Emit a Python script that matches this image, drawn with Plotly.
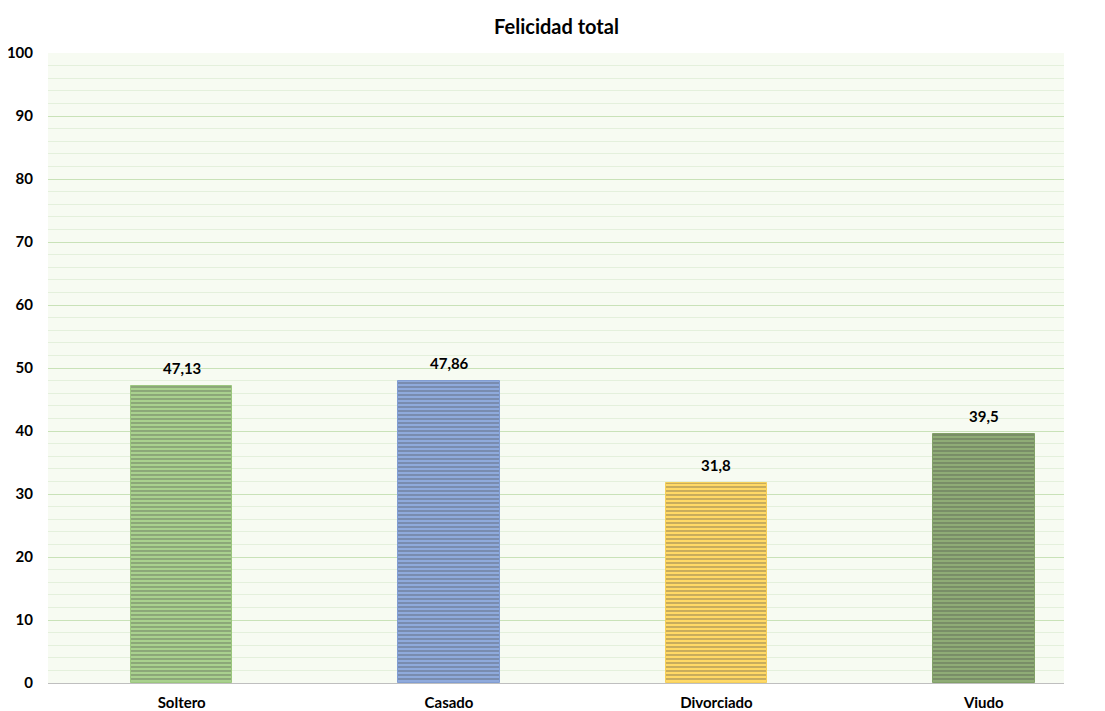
import plotly.graph_objects as go

categories = ["Soltero", "Casado", "Divorciado", "Viudo"]
values = [47.13, 47.86, 31.8, 39.5]
colors = ["#a9d18e", "#8faadc", "#ffd966", "#8fac76"]
line_colors = ["#9cc77f", "#819dd2", "#f5cf5a", "#82a168"]

labels = [str(v).replace(".", ",") for v in values]

fig = go.Figure()
fig.add_trace(go.Bar(
    x=list(range(len(categories))),
    y=values,
    width=0.38,
    marker=dict(
        color=colors,
        line=dict(color=line_colors, width=1),
        pattern=dict(shape="-", fgcolor="rgba(255,255,255,0.2)", size=4, solidity=0.3),
    ),
    hoverinfo="x+y",
))

for i, (v, t) in enumerate(zip(values, labels)):
    fig.add_annotation(
        x=i, y=v, text="<b>%s</b>" % t, showarrow=False,
        yanchor="bottom", yshift=7,
        font=dict(family="Lato", size=15, color="#000000"),
    )

fig.update_layout(
    width=1097, height=703,
    margin=dict(l=40, r=41, t=45, b=28, autoexpand=False),
    paper_bgcolor="white",
    plot_bgcolor="#f7fbf2",
    title=dict(text="<b>Felicidad total</b>", x=0.5, xanchor="center",
               y=1 - 19 / 703, yref="container", yanchor="middle",
               font=dict(family="Lato", size=20, color="#000000")),
    showlegend=False,
    bargap=0,
    font=dict(family="Lato", color="#000000"),
)
fig.update_xaxes(
    range=[-0.5, 3.3],
    tickmode="array",
    tickvals=list(range(len(categories))),
    ticktext=["<b>%s</b>" % c for c in categories],
    tickfont=dict(family="Lato", size=15, color="#000000"),
    showgrid=False,
    showline=True, linecolor="#bfbfbf", linewidth=1,
    ticks="", zeroline=False, automargin=False, ticklabelstandoff=6,
)
fig.update_yaxes(
    range=[0, 100],
    dtick=10,
    tickmode="linear",
    tickfont=dict(family="Lato", size=15, color="#000000", weight="bold"),
    showgrid=True, gridcolor="#c9e2b8", gridwidth=1,
    minor=dict(dtick=2, showgrid=True, gridcolor="#e4f0dc", gridwidth=1),
    zeroline=False, automargin=False,
    ticks="", ticklabelstandoff=14,
)

fig.write_html("out.html")
